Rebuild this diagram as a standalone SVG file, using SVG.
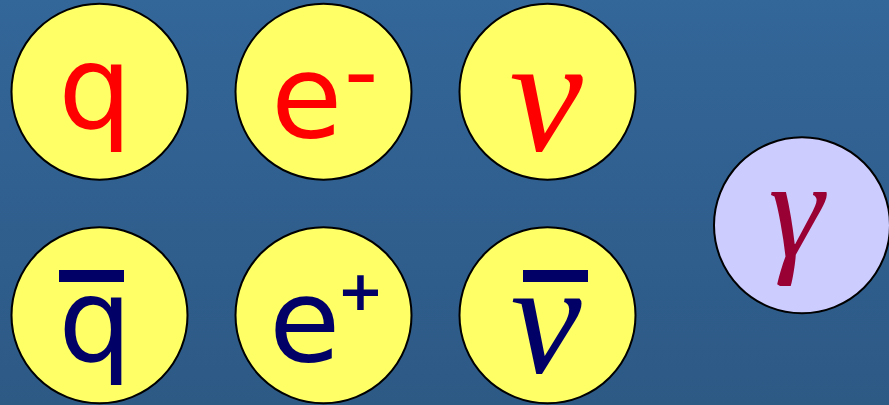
<svg xmlns="http://www.w3.org/2000/svg" width="889" height="405" viewBox="0 0 889 405">
<defs>
<linearGradient id="bg" x1="0" y1="0" x2="0" y2="1">
<stop offset="0" stop-color="#336699"/>
<stop offset="1" stop-color="#2d5985"/>
</linearGradient>
</defs>
<style>
.ball{fill:#ffff66;stroke:#000;stroke-width:2}
.photon{fill:#ccccff;stroke:#000;stroke-width:2}
.comic{font-family:"DejaVu Sans",sans-serif;font-size:116px}
.greek{font-family:"Liberation Serif","DejaVu Serif",serif;font-style:italic}
.red{fill:#ff0000}
.navy{fill:#000066}
</style>
<rect width="889" height="405" fill="url(#bg)"/>
<g id="quark">
<circle class="ball" cx="99.5" cy="91.7" r="88"/>
<text class="comic red" x="95" y="128" text-anchor="middle">q</text>
</g>
<g id="electron">
<circle class="ball" cx="323.5" cy="91.7" r="88"/>
<text class="comic red" x="271" y="137">e<tspan x="344" y="104" font-size="95px">-</tspan></text>
</g>
<g id="neutrino">
<circle class="ball" cx="547.5" cy="91.7" r="88"/>
<text class="greek red" x="546" y="150" font-size="165px" text-anchor="middle">ν</text>
</g>
<g id="antiquark">
<circle class="ball" cx="99.5" cy="315.3" r="88"/>
<rect class="navy" x="59" y="270" width="65" height="12"/>
<text class="comic navy" x="95" y="361" text-anchor="middle">q</text>
</g>
<g id="positron">
<circle class="ball" cx="323.5" cy="315.3" r="88"/>
<text class="comic navy" x="269" y="361">e<tspan x="337" y="310" font-size="56px" font-weight="bold">+</tspan></text>
</g>
<g id="antineutrino">
<circle class="ball" cx="547.5" cy="315.3" r="88"/>
<rect class="navy" x="523" y="270" width="65" height="12"/>
<text class="greek navy" x="546" y="372" font-size="160px" text-anchor="middle">ν</text>
</g>
<g id="photon">
<circle class="photon" cx="802" cy="225.3" r="88"/>
<text class="greek" x="796" y="256" font-size="140px" text-anchor="middle" fill="#990033">γ</text>
</g>
<g id="connectors"/>
</svg>
